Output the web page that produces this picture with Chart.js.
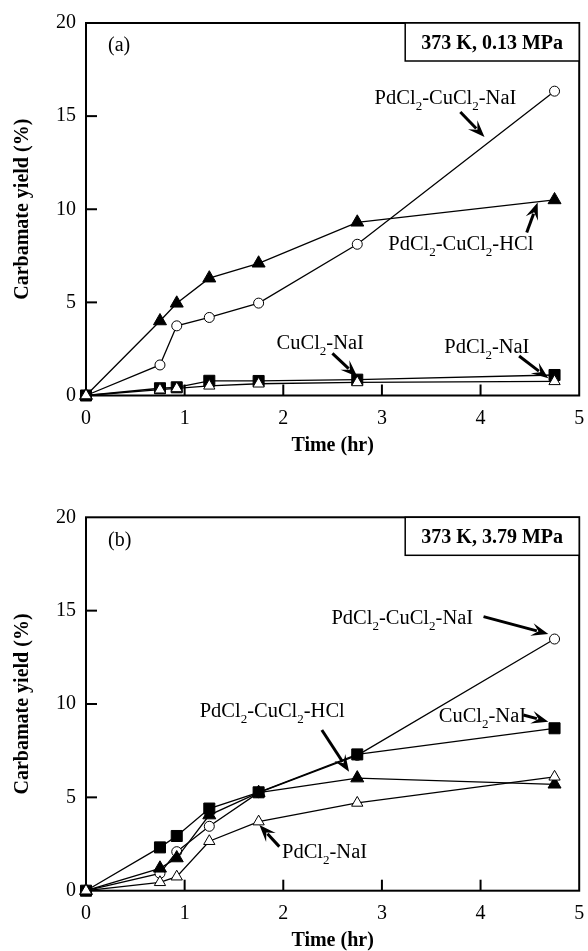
<!DOCTYPE html>
<html>
<head>
<meta charset="utf-8">
<script src="https://cdn.jsdelivr.net/npm/chart.js@4.4.0/dist/chart.umd.min.js"></script>
<style>
    html, body { margin: 0; padding: 0; background: #fff; overflow: hidden; }
    #boxA { position: absolute; left: 0; top: 0; }
    #boxB { position: absolute; left: 0; top: 470px; }
</style>
</head>
<body>
<div id="boxA"><canvas id="chartA" width="588" height="470"></canvas></div>
<div id="boxB"><canvas id="chartB" width="588" height="490"></canvas></div>
<script>
// sampling times (hr), shared by every series
const times = [0, 0.75, 0.92, 1.25, 1.75, 2.75, 4.75];

// (a) 373 K, 0.13 MPa  -- carbamate yield (%)
const a_PdCuNaI = [0, 1.64, 3.74, 4.19, 4.96, 8.12, 16.34];
const a_PdCuHCl = [0, 4.0, 4.95, 6.3, 7.1, 9.3, 10.5];
const a_CuNaI   = [0, 0.39, 0.44, 0.79, 0.78, 0.85, 1.1];
const a_PdNaI   = [0, 0.31, 0.38, 0.52, 0.63, 0.7, 0.76];

// (b) 373 K, 3.79 MPa
const b_PdCuNaI = [0, 0.93, 2.09, 3.45, 5.25, 7.25, 13.48];
const b_PdCuHCl = [0, 1.2, 1.75, 4.05, 5.25, 6.03, 5.7];
const b_CuNaI   = [0, 2.32, 2.93, 4.4, 5.27, 7.3, 8.7];
const b_PdNaI   = [0, 0.45, 0.75, 2.65, 3.7, 4.7, 6.1];

const FONT = "'Liberation Serif', 'Times New Roman', serif";
Chart.defaults.font.family = FONT;
Chart.defaults.color = '#000';

const styles = {
    openTri:   { pointStyle: 'triangle', pointRadius: 6.5, pointBackgroundColor: '#fff' },
    filledTri: { pointStyle: 'triangle', pointRadius: 7.5, pointBackgroundColor: '#000' },
    square:    { pointStyle: 'rect',     pointRadius: 7.8, pointBackgroundColor: '#000' },
    circle:    { pointStyle: 'circle',   pointRadius: 5,   pointBackgroundColor: '#fff' }
};

function series(label, ys, style) {
    return Object.assign({
        label: label,
        data: times.map((t, i) => ({ x: t, y: ys[i] })),
        borderColor: '#000',
        borderWidth: 1.3,
        pointBorderColor: '#000',
        pointBorderWidth: 1,
        pointHoverRadius: 0,
        tension: 0,
        clip: false
    }, styles[style]);
}

// text with _2 subscripts
function drawRich(ctx, text, x, y) {
    const parts = text.split(/_(\d)/);
    let cx = x;
    parts.forEach((p, i) => {
        const sub = i % 2 === 1;
        ctx.font = (sub ? '13px ' : '20.5px ') + FONT;
        ctx.fillText(p, cx, sub ? y + 6 : y);
        cx += ctx.measureText(p).width;
    });
}

function drawArrow(ctx, x1, y1, x2, y2) {
    const ang = Math.atan2(y2 - y1, x2 - x1);
    const L = 17, W = 6.5;
    ctx.lineWidth = 3;
    ctx.beginPath();
    ctx.moveTo(x1, y1);
    ctx.lineTo(x2 - Math.cos(ang) * L * 0.7, y2 - Math.sin(ang) * L * 0.7);
    ctx.stroke();
    ctx.save();
    ctx.translate(x2, y2);
    ctx.rotate(ang);
    ctx.beginPath();
    ctx.moveTo(0, 0);
    ctx.lineTo(-L, -W);
    ctx.lineTo(-L * 0.6, 0);
    ctx.lineTo(-L, W);
    ctx.closePath();
    ctx.fill();
    ctx.restore();
}

const decor = {
    id: 'decor',
    beforeDatasetsDraw(chart, args, opts) {
        const { ctx, chartArea: ca, scales: { x, y } } = chart;
        ctx.save();
        ctx.strokeStyle = '#000';
        ctx.lineWidth = 2;
        ctx.strokeRect(ca.left, ca.top, ca.right - ca.left, ca.bottom - ca.top);
        // inward tick marks
        y.ticks.forEach(t => {
            if (t.value <= y.min || t.value >= y.max) return;
            const py = y.getPixelForValue(t.value);
            ctx.beginPath(); ctx.moveTo(ca.left, py); ctx.lineTo(ca.left + 11, py); ctx.stroke();
        });
        x.ticks.forEach(t => {
            if (t.value <= x.min || t.value >= x.max) return;
            const px = x.getPixelForValue(t.value);
            ctx.beginPath(); ctx.moveTo(px, ca.bottom); ctx.lineTo(px, ca.bottom - 11); ctx.stroke();
        });
        // condition box
        ctx.lineWidth = 1.5;
        ctx.fillStyle = '#fff';
        ctx.fillRect(ca.right - 174, ca.top, 174, 38);
        ctx.strokeRect(ca.right - 174, ca.top, 174, 38);
        ctx.fillStyle = '#000';
        ctx.font = 'bold 20px ' + FONT;
        ctx.textAlign = 'center';
        ctx.textBaseline = 'middle';
        ctx.fillText(opts.label, ca.right - 87, ca.top + 21);
        // panel letter
        ctx.font = '20px ' + FONT;
        ctx.textAlign = 'left';
        ctx.fillText(opts.panel, ca.left + 22, ca.top + 23);
        ctx.restore();
    },
    afterDraw(chart, args, opts) {
        const { ctx, scales: { x, y } } = chart;
        ctx.save();
        ctx.fillStyle = '#000';
        ctx.strokeStyle = '#000';
        ctx.textAlign = 'left';
        ctx.textBaseline = 'alphabetic';
        opts.notes.forEach(n => {
            drawRich(ctx, n.text, x.getPixelForValue(n.x), y.getPixelForValue(n.y));
            drawArrow(ctx,
                x.getPixelForValue(n.from[0]), y.getPixelForValue(n.from[1]),
                x.getPixelForValue(n.to[0]), y.getPixelForValue(n.to[1]));
        });
        ctx.restore();
    }
};

function makeChart(id, datasets, label, panel, notes, pad, xAxisH) {
    return new Chart(document.getElementById(id), {
        type: 'line',
        data: { datasets: datasets },
        plugins: [decor],
        options: {
            responsive: false,
            animation: false,
            events: [],
            layout: { padding: pad },
            plugins: {
                legend: { display: false },
                tooltip: { enabled: false },
                decor: { label: label, panel: panel, notes: notes }
            },
            scales: {
                x: {
                    type: 'linear', min: 0, max: 5,
                    grid: { display: false },
                    border: { display: false },
                    ticks: { stepSize: 1, padding: 3, font: { size: 20 }, maxRotation: 0 },
                    title: { display: true, text: 'Time (hr)', font: { size: 20, weight: 'bold' }, padding: { top: 0, bottom: 0 } },
                    afterFit: s => { s.height = xAxisH; }
                },
                y: {
                    min: 0, max: 20,
                    grid: { display: false },
                    border: { display: false },
                    ticks: { stepSize: 5, padding: 2, font: { size: 20 } },
                    title: { display: true, text: 'Carbamate yield (%)', font: { size: 20, weight: 'bold' }, padding: { top: 10.5, bottom: 0 } },
                    afterFit: s => { s.width = 86; }
                }
            }
        }
    });
}

makeChart('chartA', [
    series('PdCl2-NaI', a_PdNaI, 'openTri'),
    series('CuCl2-NaI', a_CuNaI, 'square'),
    series('PdCl2-CuCl2-HCl', a_PdCuHCl, 'filledTri'),
    series('PdCl2-CuCl2-NaI', a_PdCuNaI, 'circle')
], '373 K, 0.13 MPa', '(a)', [
    { text: 'PdCl_2-CuCl_2-NaI', x: 2.926, y: 15.66, from: [3.795, 15.22], to: [4.04, 13.88] },
    { text: 'PdCl_2-CuCl_2-HCl', x: 3.064, y: 7.8, from: [4.468, 8.75], to: [4.579, 10.36] },
    { text: 'CuCl_2-NaI', x: 1.932, y: 2.49, from: [2.498, 2.26], to: [2.751, 1.01] },
    { text: 'PdCl_2-NaI', x: 3.633, y: 2.3, from: [4.391, 2.12], to: [4.687, 0.92] }
], { top: 23, right: 5, bottom: 12, left: 0 }, 62.5);

makeChart('chartB', [
    series('PdCl2-NaI', b_PdNaI, 'openTri'),
    series('CuCl2-NaI', b_CuNaI, 'square'),
    series('PdCl2-CuCl2-HCl', b_PdCuHCl, 'filledTri'),
    series('PdCl2-CuCl2-NaI', b_PdCuNaI, 'circle')
], '373 K, 3.79 MPa', '(b)', [
    { text: 'PdCl_2-CuCl_2-NaI', x: 2.488, y: 14.28, from: [4.03, 14.68], to: [4.687, 13.75] },
    { text: 'CuCl_2-NaI', x: 3.576, y: 9.02, from: [4.434, 9.41], to: [4.687, 9.05] },
    { text: 'PdCl_2-CuCl_2-HCl', x: 1.152, y: 9.29, from: [2.391, 8.61], to: [2.667, 6.37] },
    { text: 'PdCl_2-NaI', x: 1.987, y: 1.73, from: [1.96, 2.36], to: [1.758, 3.52] }
], { top: 47.3, right: 5, bottom: 7.5, left: 0 }, 61.8);
</script>
</body>
</html>
